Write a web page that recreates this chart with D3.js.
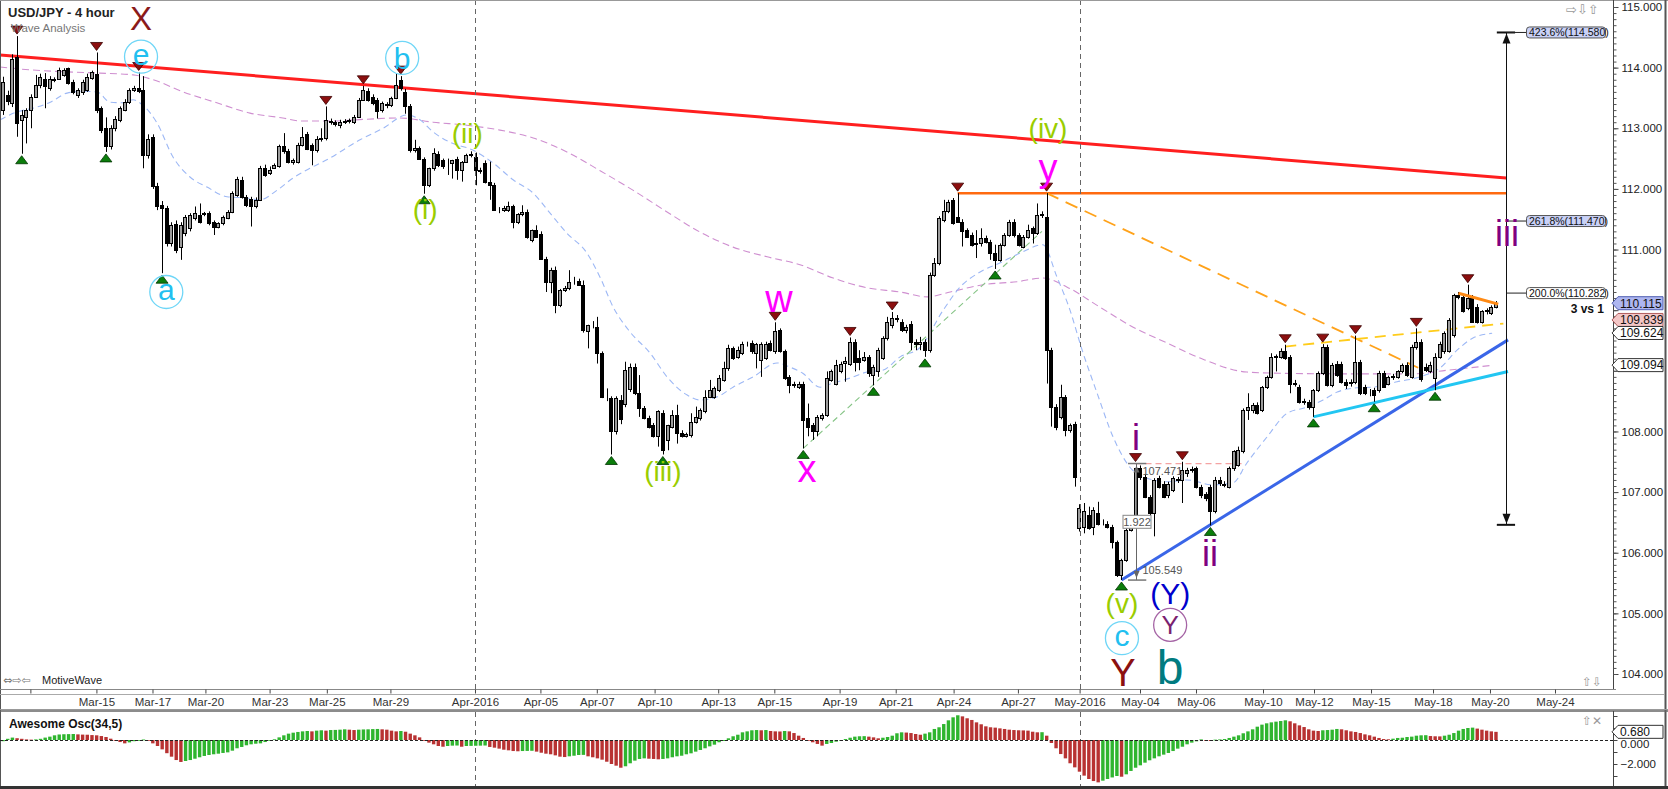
<!DOCTYPE html>
<html><head><meta charset="utf-8">
<script src="https://cdn.jsdelivr.net/npm/d3@7"></script>
<style>body{margin:0;background:#fff;}svg{display:block;font-family:"Liberation Sans",Arial,sans-serif;}</style>
</head><body><svg id="c" width="1668" height="789"></svg>
<script>
// ---------------- DATA ----------------
// 4-hour USD/JPY candles [open, high, low, close], bar index 0..319
const candles = [
[113.30,113.85,113.22,113.77],[113.55,113.62,113.38,113.45],[113.41,114.22,113.35,114.15],[114.18,114.52,112.86,113.08],
[113.14,113.30,112.58,113.22],[113.18,113.33,112.75,113.30],[113.30,113.56,113.00,113.52],[113.52,113.88,113.50,113.71],
[113.71,113.90,113.66,113.85],[113.82,113.91,113.33,113.69],[113.66,113.86,113.62,113.82],[113.80,113.84,113.76,113.81],
[113.82,114.00,113.80,113.96],[113.88,113.99,113.85,113.96],[113.99,114.00,113.72,113.74],[113.76,113.80,113.56,113.60],
[113.55,113.66,113.50,113.63],[113.60,113.80,113.55,113.77],[113.63,113.90,113.60,113.85],[113.83,113.95,113.80,113.92],
[113.90,114.25,113.25,113.30],[113.33,113.36,112.92,112.97],[113.00,113.18,112.61,112.70],[112.70,113.05,112.65,113.00],
[113.00,113.20,112.95,113.16],[113.14,113.36,113.10,113.33],[113.30,113.48,113.28,113.44],[113.44,113.66,113.40,113.63],
[113.63,113.70,113.60,113.66],[113.67,113.92,113.58,113.62],[113.63,113.86,112.34,112.56],[112.56,112.90,112.50,112.83],
[112.85,112.90,112.00,112.04],[112.04,112.10,111.65,111.71],[111.74,111.80,110.61,111.68],[111.68,111.72,111.05,111.10],
[111.10,111.45,111.05,111.40],[111.42,111.48,110.94,110.99],[111.05,111.45,110.83,111.40],[111.27,111.57,111.22,111.54],
[111.35,111.60,111.30,111.57],[111.52,111.71,111.48,111.60],[111.57,111.76,111.43,111.46],[111.60,111.62,111.55,111.58],
[111.60,111.63,111.40,111.43],[111.46,111.48,111.24,111.38],[111.38,111.45,111.35,111.43],[111.43,111.56,111.40,111.54],
[111.52,111.65,111.50,111.62],[111.62,111.96,111.60,111.93],[111.90,112.20,111.87,112.16],[112.15,112.20,111.84,111.87],
[111.87,111.90,111.70,111.73],[111.84,111.87,111.38,111.71],[111.71,111.86,111.68,111.82],[111.82,112.38,111.80,112.34],
[112.34,112.40,112.20,112.23],[112.26,112.37,112.23,112.32],[112.35,112.42,112.33,112.39],[112.37,112.73,112.35,112.70],
[112.70,112.92,112.58,112.62],[112.62,112.66,112.42,112.45],[112.45,112.50,112.40,112.48],[112.45,112.76,112.42,112.72],
[112.72,113.02,112.70,112.86],[112.90,112.94,112.64,112.66],[112.73,112.75,112.39,112.64],[112.64,112.87,112.60,112.83],
[112.82,113.00,112.78,112.84],[112.84,113.36,112.80,113.14],[113.12,113.16,113.06,113.10],[113.10,113.13,113.03,113.07],
[113.05,113.14,113.00,113.11],[113.11,113.15,113.07,113.12],[113.12,113.16,113.08,113.13],[113.10,113.22,113.07,113.19],
[113.19,113.50,113.17,113.47],[113.47,113.70,113.45,113.63],[113.62,113.66,113.44,113.47],[113.52,113.56,113.38,113.41],
[113.47,113.50,113.16,113.28],[113.30,113.44,113.26,113.41],[113.40,113.43,113.33,113.38],[113.38,113.52,113.35,113.50],
[113.50,113.91,113.48,113.71],[113.80,113.86,113.62,113.66],[113.60,113.65,113.24,113.36],[113.36,113.40,112.60,112.64],
[112.64,112.81,112.60,112.67],[112.67,112.70,112.48,112.50],[112.50,112.52,111.92,112.06],[112.06,112.35,112.03,112.34],
[112.34,112.67,112.30,112.60],[112.58,112.62,112.36,112.39],[112.47,112.50,112.33,112.37],[112.42,112.50,112.23,112.42],
[112.42,112.48,112.17,112.47],[112.50,112.53,112.15,112.31],[112.31,112.46,112.12,112.45],[112.45,112.58,112.43,112.56],
[112.56,112.62,112.52,112.57],[112.53,112.60,112.06,112.31],[112.31,112.35,112.25,112.30],[112.42,112.47,112.09,112.12],
[112.12,112.45,111.82,112.06],[112.06,112.10,111.64,111.65],[111.65,111.70,111.60,111.66],[111.66,111.72,111.62,111.68],
[111.65,111.79,111.62,111.71],[111.71,111.74,111.35,111.46],[111.46,111.60,111.42,111.58],[111.58,111.73,111.55,111.62],
[111.62,111.66,111.18,111.21],[111.16,111.33,111.12,111.32],[111.32,111.40,111.20,111.21],[111.26,111.30,110.84,110.85],
[110.85,110.88,110.30,110.47],[110.47,110.70,110.28,110.66],[110.66,110.72,109.95,110.09],[110.09,110.35,110.05,110.33],
[110.33,110.40,110.30,110.36],[110.36,110.66,110.33,110.47],[110.47,110.55,110.42,110.46],[110.48,110.52,110.40,110.42],
[110.42,110.49,109.63,109.67],[109.65,109.76,109.37,109.75],[109.75,109.82,109.70,109.76],[109.73,109.89,109.12,109.29],
[109.29,109.32,108.55,108.57],[108.57,108.71,108.50,108.56],[108.55,108.58,107.62,108.00],[108.00,108.58,107.95,108.55],
[108.52,108.60,108.12,108.20],[108.45,109.15,108.40,109.01],[108.70,109.12,108.65,109.07],[109.07,109.12,108.60,108.63],
[108.63,108.93,108.24,108.38],[108.38,108.42,108.20,108.22],[108.22,108.26,108.05,108.08],[108.11,108.14,107.90,107.92],
[107.92,108.35,107.75,108.33],[108.30,108.35,107.62,107.69],[107.86,108.11,107.69,108.11],[108.08,108.35,108.05,108.27],
[108.27,108.44,107.80,107.97],[107.97,108.02,107.90,107.92],[107.93,107.98,107.90,107.95],[107.94,108.30,107.90,108.16],
[108.16,108.41,108.13,108.24],[108.22,108.38,108.18,108.35],[108.33,108.68,108.30,108.57],[108.57,108.85,108.55,108.68],
[108.57,108.74,108.54,108.71],[108.68,108.93,108.65,108.88],[108.85,109.15,108.82,109.04],[109.04,109.43,109.00,109.37],
[109.37,109.40,109.18,109.21],[109.23,109.40,109.20,109.34],[109.29,109.48,109.26,109.45],[109.45,109.48,109.40,109.44],
[109.46,109.50,109.28,109.32],[109.29,109.46,109.04,109.44],[109.18,109.47,108.90,109.45],[109.21,109.48,109.18,109.45],
[109.46,109.50,109.32,109.34],[109.32,109.80,109.28,109.65],[109.67,109.70,109.30,109.32],[109.32,109.35,108.85,108.88],
[108.90,108.93,108.63,108.77],[108.77,108.82,108.72,108.78],[108.74,108.82,108.70,108.79],[108.79,108.82,107.72,108.19],
[108.22,108.46,107.92,108.08],[108.11,108.14,107.86,108.00],[108.00,108.27,107.92,108.24],[108.22,108.30,108.18,108.27],
[108.27,108.99,108.24,108.88],[108.85,109.02,108.82,108.99],[108.79,109.18,108.76,109.10],[108.99,109.15,108.96,109.12],
[109.13,109.23,108.82,109.16],[109.12,109.55,109.08,109.48],[109.48,109.52,108.99,109.15],[109.21,109.34,109.01,109.15],
[109.18,109.31,109.15,109.23],[109.23,109.26,108.90,108.96],[108.93,109.10,108.76,109.07],[108.99,109.38,108.90,109.34],
[109.21,109.57,109.18,109.54],[109.54,109.89,109.50,109.81],[109.76,109.97,109.70,109.87],[109.87,109.92,109.80,109.85],
[109.81,109.85,109.64,109.67],[109.67,109.76,109.62,109.73],[109.78,109.82,109.34,109.48],[109.47,109.52,109.34,109.45],
[109.45,109.56,109.34,109.47],[109.48,109.52,109.23,109.34],[109.34,110.62,109.30,110.58],[110.58,110.86,110.55,110.77],
[110.77,111.55,110.74,111.52],[111.49,111.82,111.45,111.63],[111.63,111.82,111.60,111.79],[111.82,111.85,111.41,111.43],
[111.54,111.93,111.44,111.46],[111.46,111.50,111.05,111.30],[111.32,111.35,111.19,111.21],[111.24,111.28,111.05,111.08],
[111.09,111.32,110.86,111.11],[111.10,111.35,111.05,111.19],[111.19,111.23,111.10,111.13],[111.13,111.16,110.83,110.94],
[110.94,111.08,110.68,110.83],[110.83,111.10,110.80,111.08],[111.08,111.27,111.05,111.24],[111.24,111.49,111.21,111.46],
[111.46,111.50,111.20,111.24],[111.24,111.27,111.05,111.08],[111.05,111.24,111.02,111.21],[111.21,111.41,111.18,111.32],
[111.35,111.38,111.10,111.27],[111.27,111.76,111.24,111.57],[111.57,111.63,111.52,111.58],[111.54,111.93,108.79,109.34],
[109.34,109.38,108.08,108.41],[108.41,108.45,108.02,108.08],[108.24,108.77,108.20,108.57],[108.57,108.60,107.92,108.02],
[108.02,108.13,107.98,108.11],[108.13,108.16,107.09,107.25],[106.40,106.80,106.35,106.74],[106.43,106.82,106.32,106.68],
[106.62,106.76,106.38,106.40],[106.43,106.75,106.29,106.71],[106.65,106.84,106.45,106.48],[106.50,106.55,106.45,106.51],
[106.48,106.52,106.40,106.43],[106.43,106.46,106.07,106.18],[106.18,106.20,105.60,105.64],[105.64,105.90,105.55,105.88],
[105.88,106.40,105.85,106.38],[106.38,106.46,106.35,106.43],[106.43,107.47,106.40,107.39],[107.39,107.44,107.20,107.25],
[107.25,107.30,106.90,106.92],[106.92,106.95,106.60,106.65],[106.65,107.23,106.27,107.20],[107.23,107.27,107.06,107.09],
[107.14,107.18,106.90,106.92],[106.95,107.17,106.90,107.14],[107.03,107.26,107.00,107.23],[107.20,107.25,107.15,107.22],
[107.20,107.50,106.82,107.37],[107.31,107.40,107.25,107.37],[107.37,107.42,107.32,107.38],[107.39,107.42,107.06,107.09],
[107.09,107.12,106.90,106.95],[106.97,107.00,106.85,106.90],[107.09,107.12,106.45,106.68],[106.68,107.25,106.65,107.20],
[107.20,107.25,107.10,107.15],[107.13,107.18,107.08,107.12],[107.09,107.42,107.06,107.39],[107.39,107.69,107.35,107.67],
[107.45,107.75,107.42,107.69],[107.67,108.38,107.64,108.35],[108.35,108.63,108.19,108.40],[108.35,108.47,108.30,108.44],
[108.44,108.48,108.28,108.30],[108.35,108.75,108.32,108.73],[108.74,108.92,108.70,108.90],[108.90,109.29,108.87,109.23],
[109.23,109.27,108.99,109.25],[109.23,109.37,109.20,109.32],[109.32,109.43,109.18,109.21],[109.23,109.26,108.63,108.79],
[108.79,108.85,108.74,108.80],[108.74,108.77,108.46,108.49],[108.49,108.54,108.44,108.50],[108.49,108.52,108.36,108.41],
[108.41,108.70,108.24,108.68],[108.68,108.99,108.65,108.96],[108.96,109.44,108.93,109.40],[109.40,109.43,108.74,108.77],
[108.77,109.13,108.73,109.10],[109.12,109.16,108.90,108.93],[109.12,109.15,108.79,108.81],[108.82,108.86,108.70,108.77],
[108.80,108.86,108.74,108.82],[108.82,109.58,108.78,109.15],[109.15,109.18,108.60,108.63],[108.74,108.77,108.60,108.63],
[108.66,108.70,108.58,108.66],[108.68,108.72,108.49,108.60],[108.68,109.00,108.64,108.96],[108.96,109.00,108.72,108.74],
[108.79,108.92,108.76,108.90],[108.90,108.95,108.85,108.91],[108.90,109.01,108.87,108.99],[108.99,109.12,108.96,109.10],
[109.10,109.14,108.90,108.93],[108.90,109.43,108.87,109.40],[109.40,109.70,109.35,109.48],[109.48,109.52,108.82,108.87],
[109.07,109.12,108.98,109.01],[108.99,109.15,108.96,109.10],[108.88,109.29,108.68,109.23],[109.23,109.48,109.20,109.45],
[109.32,109.65,109.28,109.62],[109.32,109.87,109.30,109.84],[109.59,110.27,109.55,110.25],[110.25,110.30,110.18,110.21],
[110.22,110.26,109.96,109.98],[110.03,110.42,110.00,110.20],[110.20,110.25,109.80,109.81],[110.06,110.10,109.78,109.81],
[109.81,110.00,109.78,109.98],[109.98,110.03,109.93,110.00],[109.95,110.08,109.92,110.06],[110.06,110.15,110.03,110.115]
];
// Awesome Oscillator (34,5) values per bar
const aoValues = [
-0.10,0.10,0.20,0.15,0.10,0.05,0.03,0.05,0.10,0.20,0.28,0.39,0.46,0.48,0.49,0.50,0.47,0.45,0.44,0.41,
0.39,0.33,0.25,0.11,-0.06,-0.17,-0.28,-0.20,-0.10,-0.02,0.04,-0.06,-0.28,-0.50,-0.78,-1.10,-1.39,-1.67,-1.83,-1.75,
-1.67,-1.56,-1.44,-1.33,-1.25,-1.19,-1.14,-1.08,-1.03,-0.89,-0.69,-0.58,-0.44,-0.36,-0.31,-0.28,-0.17,-0.06,0.06,0.22,
0.39,0.53,0.61,0.67,0.72,0.75,0.72,0.78,0.81,0.78,0.83,0.84,0.86,0.89,0.86,0.83,0.86,0.88,0.89,0.91,
0.92,0.89,0.86,0.78,0.72,0.75,0.69,0.53,0.39,0.22,-0.03,-0.22,-0.36,-0.50,-0.56,-0.50,-0.47,-0.46,-0.56,-0.50,
-0.49,-0.48,-0.47,-0.46,-0.58,-0.64,-0.72,-0.81,-0.86,-0.92,-0.94,-0.92,-0.91,-0.90,-0.97,-1.06,-1.14,-1.19,-1.28,-1.39,
-1.42,-1.36,-1.31,-1.25,-1.24,-1.36,-1.44,-1.53,-1.64,-1.81,-2.00,-2.14,-2.31,-2.19,-1.94,-1.72,-1.58,-1.53,-1.56,-1.58,
-1.61,-1.58,-1.53,-1.44,-1.36,-1.31,-1.19,-1.11,-0.97,-0.83,-0.69,-0.53,-0.39,-0.19,-0.08,0.14,0.31,0.44,0.64,0.72,
0.81,0.83,0.81,0.83,0.75,0.72,0.71,0.75,0.72,0.58,0.36,0.17,-0.06,-0.19,-0.33,-0.47,-0.33,-0.25,-0.14,0.00,
0.08,0.19,0.28,0.31,0.32,0.28,0.22,0.14,0.19,0.25,0.36,0.56,0.64,0.62,0.58,0.50,0.44,0.53,0.64,0.92,
1.06,1.33,1.64,1.89,2.06,1.97,1.81,1.67,1.47,1.31,1.14,1.06,1.03,0.97,0.92,0.86,0.83,0.81,0.80,0.78,
0.69,0.64,0.65,0.36,-0.25,-0.69,-1.17,-1.53,-1.94,-2.28,-2.64,-2.97,-3.25,-3.42,-3.53,-3.39,-3.25,-3.12,-3.00,-3.06,
-2.86,-2.58,-2.31,-2.11,-1.89,-1.69,-1.53,-1.36,-1.22,-1.08,-0.92,-0.72,-0.56,-0.36,-0.22,-0.11,0.05,-0.03,-0.08,0.03,
0.05,0.08,0.17,0.28,0.39,0.56,0.72,0.89,1.11,1.28,1.39,1.47,1.53,1.58,1.64,1.56,1.39,1.22,1.08,0.89,
0.78,0.75,0.81,0.83,0.86,0.92,0.89,0.81,0.72,0.67,0.58,0.47,0.39,0.28,0.17,0.08,0.06,0.11,0.17,0.19,
0.25,0.28,0.36,0.39,0.40,0.33,0.31,0.30,0.36,0.44,0.58,0.78,0.92,1.00,1.03,0.95,0.86,0.78,0.72,0.68
];
// date axis: tick positions in bar-index units and labels
const tickIdx = [5.86,19.97,31.95,43.26,56.97,69.2,82.79,100.86,114.84,126.89,139.24,152.83,164.82,178.77,190.76,203.13,216.87,230.05,242.96,254.92,269.24,280.14,292.32,305.57,317.74,331.63];
const tickLabels = ["","Mar-15","Mar-17","Mar-20","Mar-23","Mar-25","Mar-29","Apr-2016","Apr-05","Apr-07","Apr-10","Apr-13","Apr-15","Apr-19","Apr-21","Apr-24","Apr-27","May-2016","May-04","May-06","May-10","May-12","May-15","May-18","May-20","May-24"];
const monthStarts = [100.86, 230.05];
const priceTicks = [104,105,106,107,108,109,110,111,112,113,114,115];
const hiddenPriceLabels = [110, 109];   // covered by the value tags in the reference
const oscTicks = [-3,-2,-1,0,1,2];
const oscLabelTicks = [0,-2];
// swing markers (bar indices)
const highMarks = [3,20,29,69,77,85,165,181,190,204,223,242,252,274,282,289,302,313];
const lowMarks = [4,22,34,90,130,141,171,186,197,212,239,258,280,293,306];
// moving averages [barIndex, price]
const maFast = [[-0.6,113.14],[3,113.27],[6.4,113.33],[10.1,113.43],[13.7,113.58],[17.1,113.61],[20.1,113.60],[22.9,113.43],[25.6,113.42],[27.8,113.47],[29.9,113.38],[32.9,113.09],[36.3,112.53],[39.9,112.20],[43.6,112.03],[47.9,111.87],[52.1,111.85],[54.9,111.82],[58.6,111.98],[62,112.18],[65.6,112.34],[69.2,112.48],[76.3,112.81],[81.2,113.0],[86.3,113.22],[89.1,113.14],[91.9,112.94],[95.5,112.77],[100.4,112.64],[104.7,112.43],[109,112.15],[113.3,111.93],[116.9,111.60],[120.5,111.27],[124.8,110.94],[127.6,110.54],[130.4,110.05],[134,109.64],[138.3,109.29],[141.9,108.90],[146.2,108.60],[148.9,108.52],[152.6,108.57],[156,108.73],[160.3,108.90],[165.4,109.13],[168.2,109.06],[170.9,108.96],[174.6,108.73],[177.4,108.80],[181,108.88],[184.6,108.98],[188,109.01],[191.7,109.23],[195.9,109.38],[200.9,110.0],[204.5,110.38],[208.8,110.63],[213,110.78],[217.3,110.94],[222.2,111.08],[225.2,110.55],[228,110.0],[230.6,109.34],[233.8,108.63],[237.2,107.91],[240.8,107.41],[244.5,107.23],[248.7,107.17],[253,107.20],[258.5,107.12],[262.8,107.15],[265.8,107.48],[270.1,107.91],[274.4,108.30],[278.6,108.40],[282.1,108.52],[285.1,108.65],[289.3,108.72],[292.7,108.73],[297.9,108.82],[302.8,108.90],[307.1,109.05],[310.7,109.34],[314.1,109.54],[318.2,109.62]];
const maSlow = [[-0.6,114.01],[6.4,113.96],[13.7,113.93],[20.7,113.91],[27.8,113.88],[32.1,113.80],[38.5,113.60],[45.7,113.42],[52.8,113.25],[59.8,113.17],[63.5,113.12],[70.5,113.12],[77.8,113.15],[84.8,113.17],[91.9,113.10],[99.1,113.05],[106.2,112.97],[113.3,112.84],[120.5,112.61],[127.6,112.30],[134.6,111.98],[141.9,111.62],[148.9,111.29],[156,111.04],[163.3,110.88],[170.3,110.75],[177.4,110.53],[184.6,110.37],[191.7,110.30],[197.5,110.22],[202.4,110.30],[209.4,110.42],[216.7,110.47],[222.2,110.53],[227.4,110.38],[234.4,110.05],[241.5,109.72],[248.7,109.46],[255.8,109.21],[265.8,108.98],[272.9,108.96],[287.2,108.95],[301.3,108.95],[308.6,109.01],[318.2,109.09]];
// trend lines [barIndex, price] endpoints
const redTrend = [[-0.63,114.21],[321.2,112.18]];
const orangeLevel = [[204,111.93],[321.2,111.93]];
const orangeDashed = [[223,111.93],[302.4,109.05]];
const yellowDashed = [[274,109.40],[320.6,109.78]];
const orangeShort = [[311,110.28],[319.5,110.10]];
const blueTrend = [[239,105.55],[321.6,109.51]];
const cyanTrend = [[280,108.24],[321.6,108.99]];
const greenDashed = [[171,107.72],[222,111.30]];
const pinkLevel = [[242,107.47],[265,107.47]];
// measurement ruler (v) -> i
const rulerIdx = 242, rulerCap = [240.4,244.3], rulerHigh = 107.471, rulerLow = 105.549, rulerDiff = "1.922";
// fibonacci extension
const fibIdx = 321.2, fibCap = [319.2,323.1], fibTop = 114.58, fibBottom = 106.46;
const fibLevels = [["423.6%(114.580)",114.580],["261.8%(111.470)",111.470],["200.0%(110.282)",110.282]];
// right axis tags
const priceTags = [110.115,109.839,109.624,109.094];
const oscTag = 0.680;
// wave labels [text, barIndex, price, degree]
const waveLabels = [
["X",29.5,114.81,"bigX"],["e",29.5,114.18,"circ"],["a",34.9,110.30,"circ"],["b",85.3,114.16,"circ"],["c",239.1,104.59,"circ"],
["(i)",90.2,111.65,"minute"],["(ii)",99.2,112.89,"minute"],["(iii)",141.0,107.32,"minute"],["(iv)",223.3,112.97,"minute"],["(v)",239.1,105.15,"minute"],
["w",165.8,110.14,"wxy"],["x",171.8,107.33,"wxy"],["y",223.3,112.30,"wxy"],
["i",242.1,107.91,"minuette"],["ii",257.9,106.0,"minuette"],["iii",321.4,111.27,"minuette"],
["(Y)",249.4,105.30,"Yblue"],["Y",249.4,104.81,"Ycirc"],["Y",239.3,104.02,"Yred"],["b",249.4,104.116,"bteal"]
];

// ---------------- STYLES / LAYOUT ----------------
const W = 1668, H = 789;
const plotR = 1613, plotB = 689;
const labelStyle = {
  bigX:{fill:"#8b1a1a",size:33},
  circ:{fill:"#22bff0",size:30,ring:"#6fd6f7"},
  minute:{fill:"#9acd00",size:28},
  wxy:{fill:"#ff00ff",size:38},
  minuette:{fill:"#800080",size:36},
  Yblue:{fill:"#0000cc",size:30},
  Ycirc:{fill:"#7a1f70",size:26,ring:"#a564a5"},
  Yred:{fill:"#8b1010",size:38},
  bteal:{fill:"#007b80",size:48}
};
const tagStyle = [["#aeb6f0","#4e5cb0"],["#f3c6c6","#b05a5a"],["#ffffff","#333"],["#ffffff","#333"]];

const svg = d3.select("#c");
const x = d3.scaleLinear().domain([0,300]).range([2.96,1406.96]);
const y = d3.scaleLinear().domain([104,115]).range([674,7]);
const yo = d3.scaleLinear().domain([-3,2]).range([776,716]);

svg.append("rect").attr("width",W).attr("height",H).attr("fill","#fff");
const defs = svg.append("defs");
defs.append("clipPath").attr("id","clipMain").append("rect").attr("x",0).attr("y",0).attr("width",plotR).attr("height",plotB);
defs.append("clipPath").attr("id","clipOsc").append("rect").attr("x",0).attr("y",711).attr("width",plotR).attr("height",75);

const main = svg.append("g").attr("clip-path","url(#clipMain)");
const line2 = d3.line().x(d=>x(d[0])).y(d=>y(d[1]));

// month separators
monthStarts.forEach(m=>{
  const xx = Math.round(x(m))+0.5;
  svg.append("line").attr("x1",xx).attr("x2",xx).attr("y1",0).attr("y2",plotB).attr("stroke","#666").attr("stroke-dasharray","5,4");
  svg.append("line").attr("x1",xx).attr("x2",xx).attr("y1",712).attr("y2",786).attr("stroke","#666").attr("stroke-dasharray","5,4");
});

// moving averages
const curve = d3.line().x(d=>x(d[0])).y(d=>y(d[1])).curve(d3.curveMonotoneX);
main.append("path").attr("d",curve(maSlow)).attr("fill","none").attr("stroke","#cf8fd0").attr("stroke-width",1.1).attr("stroke-dasharray","7,4");
main.append("path").attr("d",curve(maFast)).attr("fill","none").attr("stroke","#9db8f5").attr("stroke-width",1.1).attr("stroke-dasharray","6,4");

// trend lines
function tl(pts,color,w,dash){const p=main.append("path").attr("d",line2(pts)).attr("fill","none").attr("stroke",color).attr("stroke-width",w); if(dash)p.attr("stroke-dasharray",dash);}
tl(greenDashed,"#86c486",1.1,"6,4");
tl(pinkLevel,"#f4a2a2",1.2,"6,4");
tl(redTrend,"#ff1f1f",3);
tl(orangeLevel,"#ff6a10",2.5);
tl(orangeDashed,"#ffa21a",1.8,"13,8");
tl(yellowDashed,"#ffcc1a",1.8,"11,7");
tl(blueTrend,"#3a66e8",3);
tl(cyanTrend,"#22c6f2",3);

// candles
const cg = main.append("g");
candles.forEach((d,i)=>{
  const [o,h,l,c] = d;
  const cx = Math.round(x(i));
  cg.append("line").attr("x1",cx+0.5).attr("x2",cx+0.5).attr("y1",y(h)).attr("y2",y(l)).attr("stroke","#000").attr("stroke-width",1);
  const t = Math.round(y(Math.max(o,c))), b = Math.round(y(Math.min(o,c)));
  cg.append("rect").attr("x",cx-1.5).attr("width",3).attr("y",t+0.5).attr("height",Math.max(0,b-t))
    .attr("fill",c>=o?"#9c9c9c":"#000").attr("stroke","#000").attr("stroke-width",1);
});
tl(orangeShort,"#ff8a14",3);

// swing markers
highMarks.forEach(i=>{
  const cx=x(i), ty=y(candles[i][1])-2;
  main.append("path").attr("d",`M${cx-6},${ty-8}L${cx+6},${ty-8}L${cx},${ty}Z`).attr("fill","#8c0f0f").attr("stroke","#3a0000").attr("stroke-width",0.8);
});
lowMarks.forEach(i=>{
  const cx=x(i), ty=y(candles[i][2])+2;
  main.append("path").attr("d",`M${cx-6},${ty+8}L${cx+6},${ty+8}L${cx},${ty}Z`).attr("fill","#0b7d0b").attr("stroke","#003300").attr("stroke-width",0.8);
});

// ruler
{
  const rx = Math.round(x(rulerIdx))+0.5, yt = y(rulerHigh), yb = y(rulerLow);
  main.append("line").attr("x1",rx).attr("x2",rx).attr("y1",yt).attr("y2",yb).attr("stroke","#666");
  [yt,yb].forEach(yy=>main.append("line").attr("x1",x(rulerCap[0])).attr("x2",x(rulerCap[1])).attr("y1",yy).attr("y2",yy).attr("stroke","#777").attr("stroke-width",1.5));
  main.append("path").attr("d",`M${rx-3},${yt+9}L${rx+3},${yt+9}L${rx},${yt+2}Z`).attr("fill","#666");
  main.append("path").attr("d",`M${rx-3},${yb-9}L${rx+3},${yb-9}L${rx},${yb-2}Z`).attr("fill","#666");
  main.append("text").attr("x",rx+6).attr("y",yt+11).attr("font-size",11).attr("fill","#555").text(rulerHigh.toFixed(3));
  main.append("text").attr("x",rx+6).attr("y",yb-6).attr("font-size",11).attr("fill","#555").text(rulerLow.toFixed(3));
  const my = y((rulerHigh+rulerLow)/2);
  main.append("rect").attr("x",rx-13.5).attr("y",my-6.5).attr("width",28).attr("height",13).attr("fill","#fff").attr("stroke","#888");
  main.append("text").attr("x",rx+0.5).attr("y",my+4).attr("text-anchor","middle").attr("font-size",11).attr("fill","#555").text(rulerDiff);
}

// fib extension
{
  const fx = Math.round(x(fibIdx))+0.5, yt=y(fibTop), yb=y(fibBottom);
  svg.append("line").attr("x1",fx).attr("x2",fx).attr("y1",yt).attr("y2",yb).attr("stroke","#111");
  [yt,yb].forEach(yy=>svg.append("line").attr("x1",x(fibCap[0])).attr("x2",x(fibCap[1])).attr("y1",yy).attr("y2",yy).attr("stroke","#111").attr("stroke-width",2));
  svg.append("path").attr("d",`M${fx-4},${yt+11}L${fx+4},${yt+11}L${fx},${yt+1}Z`).attr("fill","#111");
  svg.append("path").attr("d",`M${fx-4},${yb-11}L${fx+4},${yb-11}L${fx},${yb-1}Z`).attr("fill","#111");
  fibLevels.forEach((f,k)=>{
    const yy=y(f[1]);
    svg.append("line").attr("x1",fx).attr("x2",1526).attr("y1",yy).attr("y2",yy).attr("stroke","#222");
    svg.append("rect").attr("x",1526.5).attr("y",yy-5.5).attr("width",79).attr("height",11).attr("rx",3)
      .attr("fill",k<2?"#c9d1f7":"#fff").attr("stroke","#555");
    svg.append("text").attr("x",1529).attr("y",yy+3.8).attr("font-size",10.5).attr("fill","#111").text(f[0]);
  });
}

// wave labels
waveLabels.forEach(([t,i,p,deg])=>{
  const s = labelStyle[deg], cx=x(i), cy=y(p);
  if(s.ring) svg.append("circle").attr("cx",cx).attr("cy",cy).attr("r",16.5).attr("fill","none").attr("stroke",s.ring).attr("stroke-width",1.3);
  const dy = /[()]/.test(t)?"0.3em":(/[A-Zbdhilk]/.test(t)?"0.36em":"0.26em");
  svg.append("text").attr("x",cx).attr("y",cy).attr("dy",dy).attr("text-anchor","middle")
    .attr("font-size",s.size).attr("fill",s.fill).text(t);
});

// title
svg.append("text").attr("x",8).attr("y",17).attr("font-size",13).attr("font-weight","bold").attr("fill","#222").text("USD/JPY - 4 hour");
svg.append("text").attr("x",11).attr("y",32).attr("font-size",11.5).attr("fill","#777").text("Wave Analysis");
svg.append("text").attr("x",1604).attr("y",313).attr("text-anchor","end").attr("font-size",12).attr("font-weight","bold").attr("fill","#111").text("3 vs 1");

// ---------------- AXES ----------------
svg.append("line").attr("x1",0.5).attr("x2",0.5).attr("y1",0).attr("y2",H).attr("stroke","#555");
svg.append("line").attr("x1",0).attr("x2",W).attr("y1",0.5).attr("y2",0.5).attr("stroke","#999");
svg.append("line").attr("x1",1665.5).attr("x2",1665.5).attr("y1",0).attr("y2",H).attr("stroke","#555").attr("stroke-width",2);
svg.append("rect").attr("x",0).attr("y",786).attr("width",W).attr("height",3).attr("fill","#333");
svg.append("line").attr("x1",0).attr("x2",plotR+3).attr("y1",plotB+0.5).attr("y2",plotB+0.5).attr("stroke","#888");
svg.append("line").attr("x1",0).attr("x2",1665).attr("y1",694.5).attr("y2",694.5).attr("stroke","#aaa");
svg.append("line").attr("x1",0).attr("x2",W).attr("y1",709.5).attr("y2",709.5).attr("stroke","#999");
svg.append("line").attr("x1",0).attr("x2",W).attr("y1",711).attr("y2",711).attr("stroke","#666").attr("stroke-width",1.5);

// price axis
const yAx = svg.append("g").attr("transform",`translate(${plotR+0.5},0)`)
  .call(d3.axisRight(y).tickValues(priceTicks).tickSize(5).tickPadding(3)
    .tickFormat(d=>hiddenPriceLabels.includes(d)?"":d3.format(".3f")(d)));
yAx.select(".domain").attr("stroke","#444").attr("d",`M0,0V${plotB}`);
yAx.selectAll(".tick line").attr("stroke","#444");
yAx.selectAll(".tick text").attr("font-size",11.5).attr("fill","#222").attr("font-family","Liberation Sans, Arial, sans-serif");
svg.append("g").attr("transform",`translate(${plotR+0.5},0)`)
  .call(d3.axisRight(y).tickValues(d3.range(1040,1151).map(v=>v/10)).tickSize(3).tickFormat(""))
  .call(g=>{g.select(".domain").remove(); g.selectAll("line").attr("stroke","#555");});

// date axis
const xAx = svg.append("g").attr("transform",`translate(0,${plotB+0.5})`)
  .call(d3.axisBottom(x).tickValues(tickIdx).tickSize(4).tickPadding(4).tickFormat((d,k)=>tickLabels[k]));
xAx.select(".domain").remove();
xAx.selectAll(".tick line").attr("stroke","#444");
xAx.selectAll(".tick text").attr("font-size",11.5).attr("fill","#333").attr("font-family","Liberation Sans, Arial, sans-serif");

// oscillator
const og = svg.append("g").attr("clip-path","url(#clipOsc)");
aoValues.forEach((v,i)=>{
  const up = i===0 || v>=aoValues[i-1];
  const y0 = yo(0), y1 = yo(v);
  og.append("rect").attr("x",x(i)-1.6).attr("width",3.4).attr("y",Math.min(y0,y1)).attr("height",Math.max(0.8,Math.abs(y1-y0)))
    .attr("fill",up?"#2fb52f":"#b83232");
});
og.append("line").attr("x1",0).attr("x2",plotR).attr("y1",yo(0)+0.5).attr("y2",yo(0)+0.5).attr("stroke","#222").attr("stroke-dasharray","3,2");
const oAx = svg.append("g").attr("transform",`translate(${plotR+0.5},0)`)
  .call(d3.axisRight(yo).tickValues(oscTicks).tickSize(4).tickPadding(3).tickFormat(d=>oscLabelTicks.includes(d)?d3.format(".3f")(d):""));
oAx.select(".domain").attr("stroke","#444").attr("d","M0,711V786");
oAx.selectAll(".tick line").attr("stroke","#444");
oAx.selectAll(".tick text").attr("font-size",11.5).attr("fill","#222").attr("font-family","Liberation Sans, Arial, sans-serif");
oAx.selectAll(".tick").filter(d=>d===0).select("text").attr("dy","0.62em");
svg.append("text").attr("x",9).attr("y",728).attr("font-size",12).attr("font-weight","bold").attr("fill","#111").text("Awesome Osc(34,5)");

// right tags
function tag(yy,fill,stroke,txt){
  svg.append("path").attr("d",`M${plotR-1},${yy}L${plotR+5},${yy-6.5}H1663V${yy+6.5}H${plotR+5}Z`).attr("fill",fill).attr("stroke",stroke);
  svg.append("text").attr("x",plotR+7).attr("y",yy+4.3).attr("font-size",12).attr("fill","#111").text(txt);
}
priceTags.forEach((v,k)=>tag(y(v),tagStyle[k][0],tagStyle[k][1],v.toFixed(3)));
tag(yo(oscTag),"#fff","#333",oscTag.toFixed(3));

// small ui glyphs
svg.append("text").attr("x",1566).attr("y",14).attr("font-size",13).attr("fill","#999").attr("font-family","DejaVu Sans").text("⇨⇩⇧");
svg.append("text").attr("x",1582).attr("y",686).attr("font-size",12).attr("fill","#999").attr("font-family","DejaVu Sans").text("⇧⇩");
svg.append("text").attr("x",1582).attr("y",725).attr("font-size",12).attr("fill","#999").attr("font-family","DejaVu Sans").text("⇧✕");
svg.append("text").attr("x",3).attr("y",684).attr("font-size",11).attr("fill","#777").attr("font-family","DejaVu Sans").text("⇔⇨⇦");
svg.append("text").attr("x",42).attr("y",684).attr("font-size",11).attr("fill","#222").text("MotiveWave");
</script></body></html>
